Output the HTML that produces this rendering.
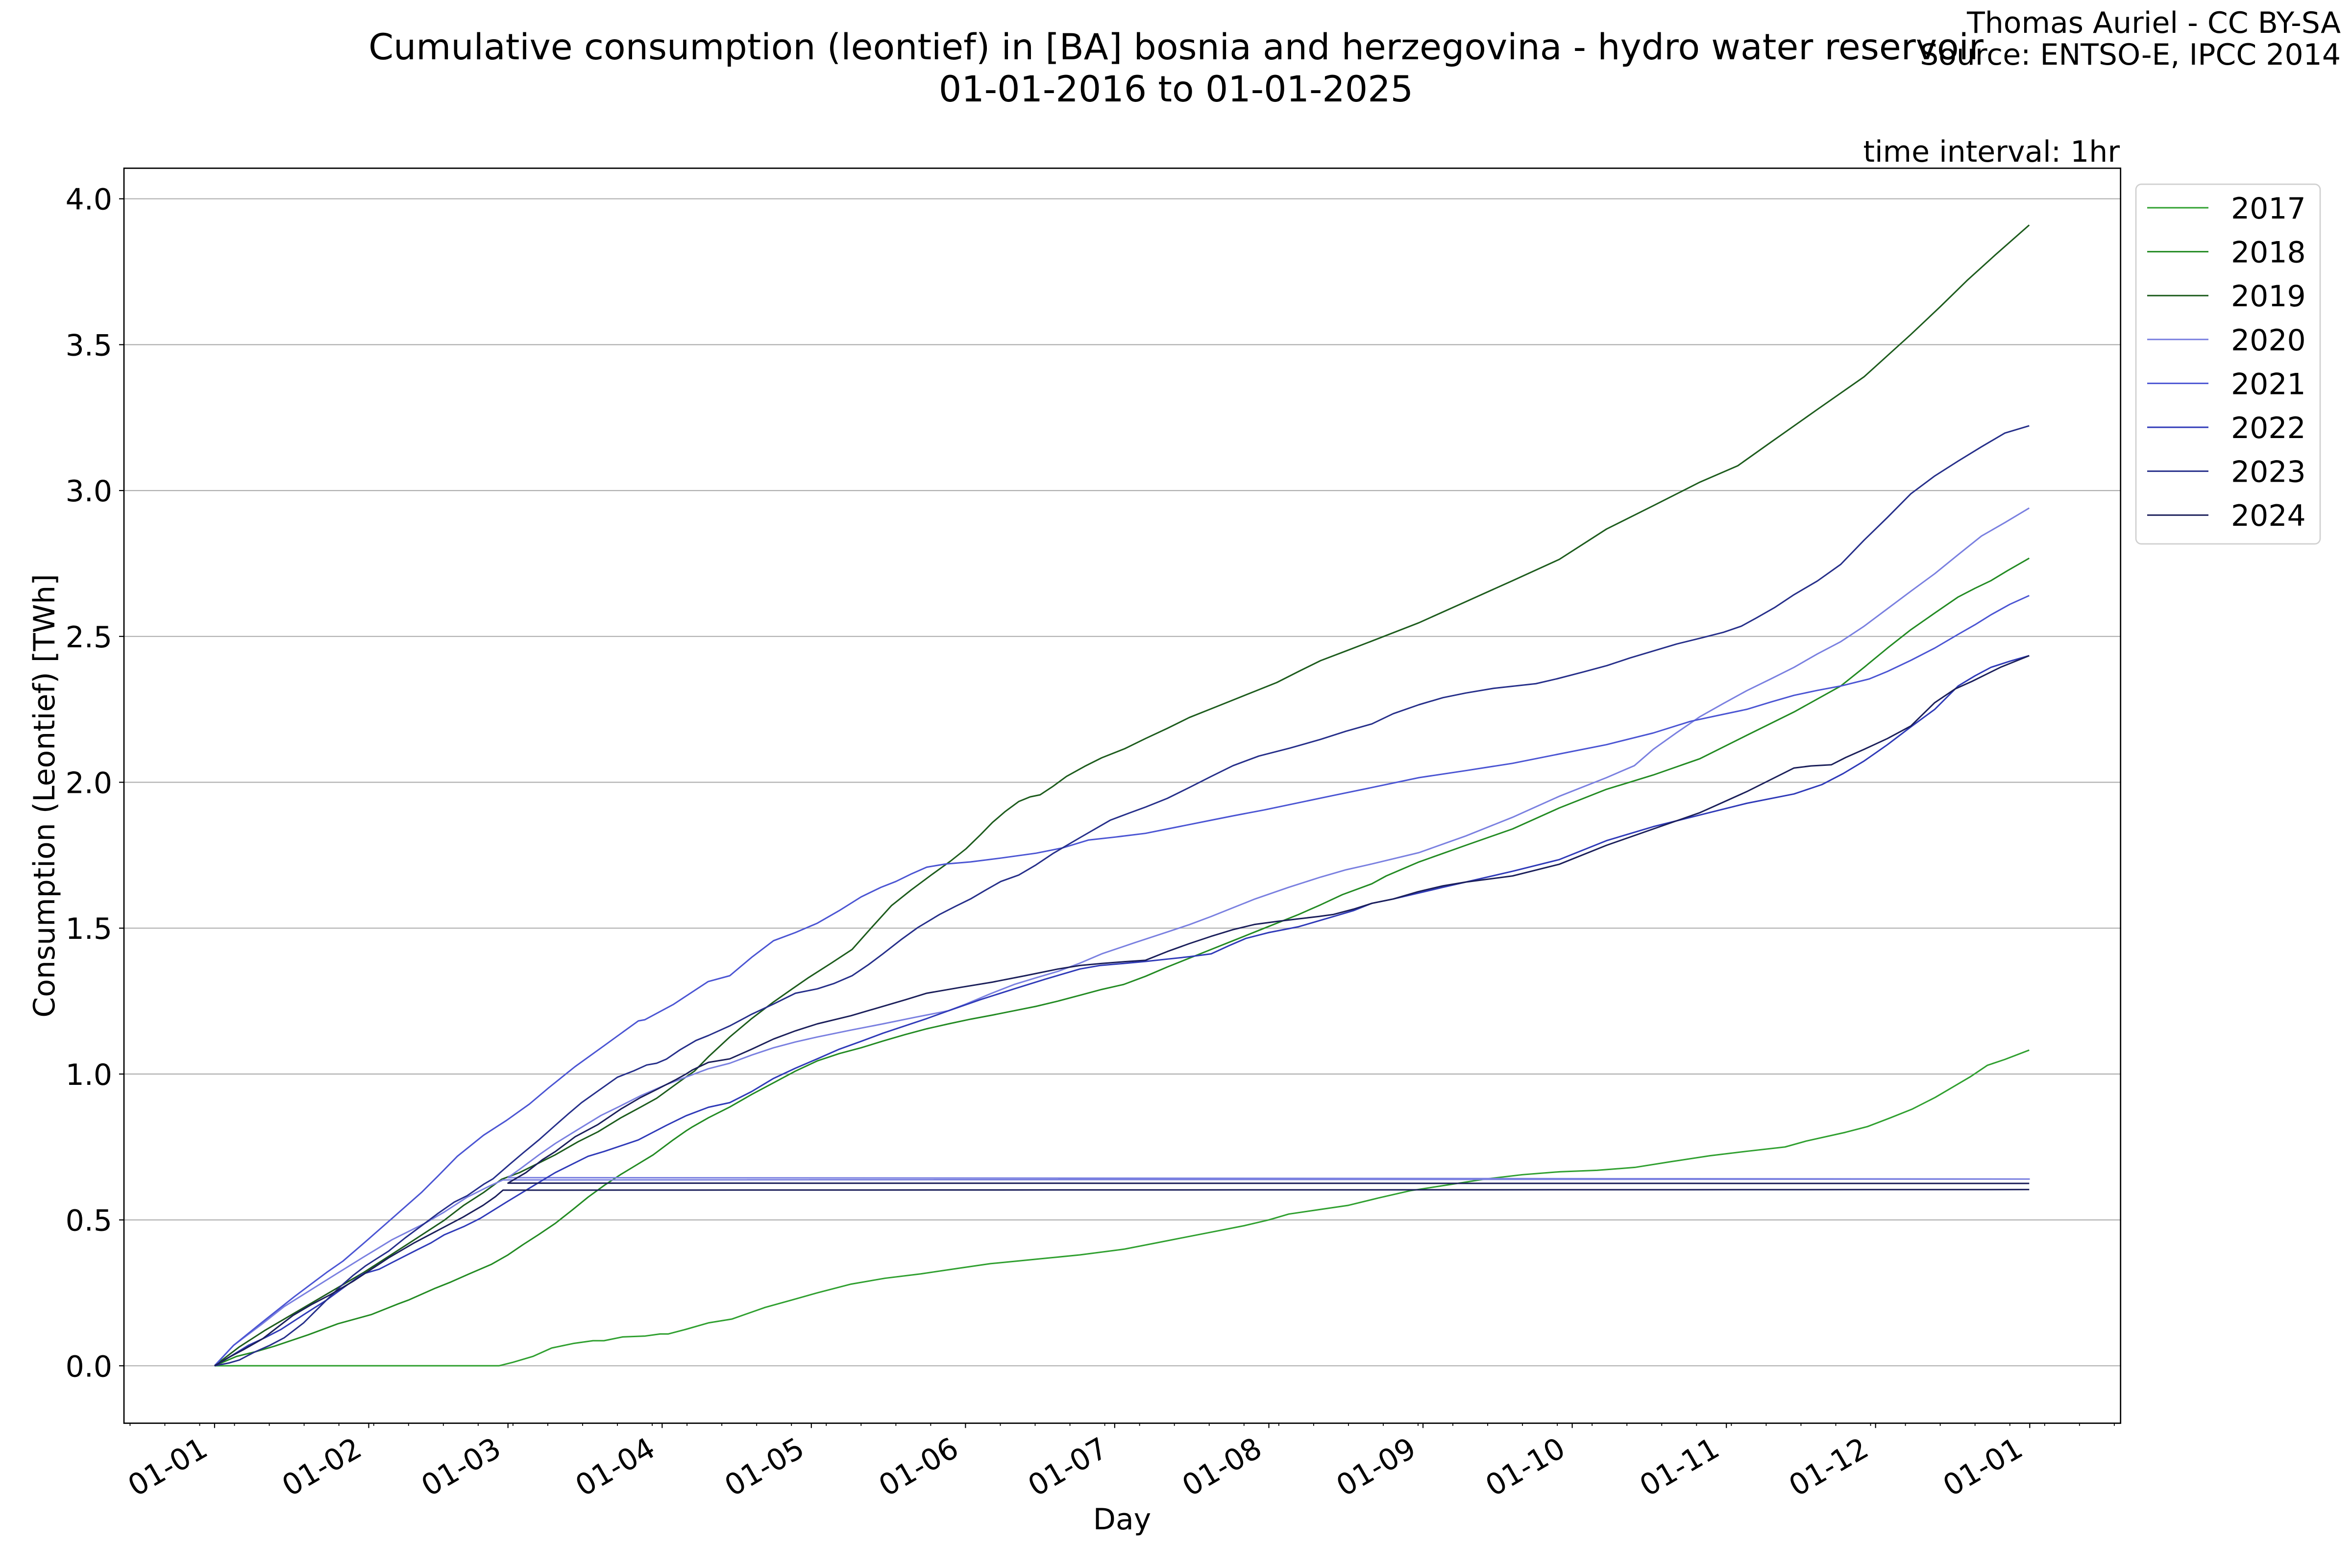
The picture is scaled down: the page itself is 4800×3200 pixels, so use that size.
<!DOCTYPE html>
<html><head><meta charset="utf-8"><style>
html,body{margin:0;padding:0;background:#fff;width:4800px;height:3200px;overflow:hidden}
svg{display:block}
text{font-family:"DejaVu Sans","Liberation Sans",sans-serif;fill:#000}
</style></head><body>
<svg xmlns="http://www.w3.org/2000/svg" width="4800" height="3200" viewBox="0 0 4800 3200">
<rect x="0" y="0" width="4800" height="3200" fill="#fff"/>
<!-- titles -->
<text x="2400" y="121" font-size="73" text-anchor="middle">Cumulative consumption (leontief) in [BA] bosnia and herzegovina - hydro water reservoir</text>
<text x="2400" y="207" font-size="73" text-anchor="middle">01-01-2016 to 01-01-2025</text>
<text x="4777" y="67" font-size="60" text-anchor="end">Thomas Auriel - CC BY-SA</text>
<text x="4777" y="132" font-size="60" text-anchor="end">Source: ENTSO-E, IPCC 2014</text>
<text x="4326" y="330" font-size="60" text-anchor="end">time interval: 1hr</text>

<!-- gridlines -->
<g stroke="#b0b0b0" stroke-width="2.2">
<line x1="253" x2="4327" y1="2787.3" y2="2787.3"/>
<line x1="253" x2="4327" y1="2489.6" y2="2489.6"/>
<line x1="253" x2="4327" y1="2191.9" y2="2191.9"/>
<line x1="253" x2="4327" y1="1894.2" y2="1894.2"/>
<line x1="253" x2="4327" y1="1596.5" y2="1596.5"/>
<line x1="253" x2="4327" y1="1298.8" y2="1298.8"/>
<line x1="253" x2="4327" y1="1001.1" y2="1001.1"/>
<line x1="253" x2="4327" y1="703.4" y2="703.4"/>
<line x1="253" x2="4327" y1="405.7" y2="405.7"/>
</g>

<!-- data -->
<g transform="translate(437.9 2787.3) scale(10.149 -595.4)" fill="none" stroke-linejoin="round" stroke-linecap="butt">
<polyline vector-effect="non-scaling-stroke" stroke="#30a030" stroke-width="3" points="0,0 57.2,0 60,0.012 64,0.032 67.8,0.061 72.3,0.077 76.1,0.086 78.3,0.086 82.1,0.099 86.6,0.102 89.6,0.109 91.2,0.109 94.8,0.125 99.3,0.147 104,0.16 110.7,0.2 116,0.225 121.2,0.25 128,0.28 134.8,0.3 142,0.315 149.9,0.335 156,0.35 162,0.36 168,0.37 174,0.38 183,0.4 189,0.42 195,0.44 201,0.46 207,0.48 212,0.5 216,0.52 222,0.535 228,0.55 234,0.575 240.4,0.6 248,0.62 255.5,0.64 263,0.655 270.5,0.665 278,0.67 285.6,0.68 293,0.7 300.7,0.72 308,0.735 315.8,0.75 320,0.77 327.9,0.8 332.4,0.82 337,0.85 341.4,0.88 346,0.92 349,0.95 353,0.99 356.5,1.03 360,1.05 364.9,1.082"/>
<polyline vector-effect="non-scaling-stroke" stroke="#238b23" stroke-width="3" points="0,0 4.4,0.032 8.2,0.048 12,0.067 18.8,0.106 24.8,0.144 31.6,0.176 36.9,0.212 38.96,0.225 44.4,0.266 47.5,0.287 51.2,0.315 55.7,0.348 59,0.38 62,0.415 65.2,0.45 68.5,0.488 72,0.535 75.1,0.578 78.5,0.62 81.7,0.656 85,0.69 88.2,0.723 92.2,0.774 94.8,0.805 96.1,0.819 99.3,0.85 103.6,0.887 108,0.93 112.4,0.97 116.8,1.01 121.2,1.045 125.6,1.07 130,1.09 134.4,1.113 138.8,1.135 143.2,1.155 147.6,1.172 152,1.188 156.4,1.202 160.8,1.217 165.2,1.232 169.6,1.25 174,1.27 178.4,1.29 182.8,1.307 187.2,1.335 191.6,1.367 196,1.397 200.4,1.427 204.8,1.457 209.2,1.487 213.6,1.517 218,1.547 222.4,1.58 226.8,1.615 232.7,1.652 235.6,1.679 242.2,1.727 251.6,1.784 261,1.84 270.4,1.912 279.9,1.976 289.3,2.025 298.7,2.081 308.1,2.161 317.6,2.241 327,2.33 331.7,2.394 336.4,2.46 341.1,2.523 345.9,2.58 350.6,2.635 354,2.665 357.2,2.691 360.5,2.725 364.9,2.768"/>
<polyline vector-effect="non-scaling-stroke" stroke="#1d5c1d" stroke-width="3" points="0,0 5,0.065 10,0.12 15,0.17 20,0.22 25,0.27 30,0.32 35,0.375 40,0.43 46.2,0.499 50.1,0.55 54.1,0.594 57.7,0.639 61.3,0.662 65.2,0.695 68.5,0.723 73.1,0.768 77.1,0.802 81.7,0.85 85.6,0.886 88.9,0.917 92.2,0.958 94.8,0.99 96.5,1.01 99.3,1.059 103.6,1.127 108,1.19 112.4,1.247 116,1.29 119.4,1.33 124,1.38 128.2,1.427 132,1.5 136.1,1.577 140,1.63 144.1,1.682 148,1.73 151.1,1.772 154,1.82 156.4,1.862 159,1.9 161.7,1.934 164,1.95 166,1.957 168.5,1.985 171.3,2.02 175,2.055 178.4,2.084 183,2.115 187.2,2.15 191.6,2.185 196,2.222 200.4,2.252 204.8,2.282 209.2,2.312 213.6,2.342 218,2.38 222.4,2.417 227.5,2.45 232.7,2.484 242.2,2.547 251.6,2.619 261,2.691 270.4,2.764 279.9,2.868 289.3,2.948 298.7,3.029 306.3,3.085 312.9,3.165 322.3,3.278 331.7,3.39 341.1,3.535 347,3.63 352.4,3.72 358.1,3.808 364.9,3.91"/>
<polyline vector-effect="non-scaling-stroke" stroke="#7a80e0" stroke-width="3" points="0,0 3.82,0.07 9.4,0.141 14,0.203 19.25,0.259 24.5,0.315 29.8,0.371 35.68,0.432 42.25,0.488 46.19,0.527 50.8,0.578 55.4,0.617 58,0.637 364.9,0.64 59,0.645 61.3,0.673 65.24,0.723 68.52,0.762 72.8,0.807 77.7,0.858 81.66,0.891 85.6,0.925 90.85,0.964 96.11,0.998 99.26,1.018 103.6,1.037 108,1.065 112.4,1.09 116.8,1.11 121.2,1.127 127.8,1.15 134.4,1.172 141,1.195 147.6,1.217 151.1,1.24 156,1.275 160.8,1.307 165.2,1.33 169.6,1.352 174,1.38 178.4,1.412 185,1.45 191.6,1.487 196,1.512 200.4,1.54 204.8,1.57 209.2,1.6 216,1.64 222.4,1.675 227.5,1.7 232.7,1.72 242.2,1.759 251.6,1.816 261,1.88 270.4,1.952 279.9,2.016 285.5,2.057 289.3,2.113 294,2.17 298.7,2.225 303.4,2.27 308.1,2.314 312.9,2.354 317.6,2.394 322.3,2.44 327,2.482 331.7,2.535 336.4,2.595 341.1,2.655 345.9,2.715 350.6,2.78 355.3,2.844 360,2.89 364.9,2.94"/>
<polyline vector-effect="non-scaling-stroke" stroke="#4b55d3" stroke-width="3" points="0,0 3.82,0.07 9.4,0.147 15.97,0.236 22.54,0.32 25.83,0.359 30.4,0.426 35.68,0.505 41.6,0.594 44.9,0.65 48.81,0.718 54.07,0.79 58.7,0.841 63.3,0.897 67.2,0.953 72.46,1.025 78.4,1.098 85.2,1.182 86.5,1.186 92.2,1.238 99.26,1.317 103.6,1.337 108,1.4 112.4,1.457 116.8,1.485 121.2,1.517 125.6,1.56 130,1.607 134,1.64 137,1.66 140,1.685 143.2,1.709 147,1.72 152,1.727 158,1.74 165.2,1.757 170.5,1.775 175.7,1.802 181,1.812 187.2,1.825 191.6,1.84 196,1.855 200.4,1.87 204.8,1.885 211,1.905 218,1.93 225,1.955 232.7,1.982 242.2,2.016 251.6,2.04 261,2.065 270.4,2.097 279.9,2.129 289.3,2.169 296.8,2.209 302,2.228 308.1,2.25 312.9,2.275 317.6,2.298 322.3,2.315 327,2.33 332.7,2.354 336.4,2.38 341.1,2.418 345.9,2.46 350.6,2.507 354,2.54 357.2,2.574 361,2.61 364.9,2.64"/>
<polyline vector-effect="non-scaling-stroke" stroke="#2f3ab8" stroke-width="3" points="0,0 3,0.03 6.8,0.07 10.1,0.096 13.3,0.124 17.9,0.175 22.5,0.225 26.5,0.275 29.8,0.315 33.1,0.331 35.7,0.354 40.9,0.399 43.5,0.421 46.2,0.449 50.1,0.477 53.4,0.505 58.7,0.561 64.6,0.622 68.5,0.662 75.1,0.718 78.4,0.735 85.2,0.774 90.85,0.824 94.8,0.857 99.3,0.886 103.6,0.902 108,0.94 112.4,0.985 116.8,1.02 121.2,1.052 125.6,1.085 130,1.112 134.4,1.14 138.8,1.165 143.2,1.19 147.6,1.217 154,1.255 160.8,1.292 167,1.325 174,1.36 178,1.372 182.8,1.379 187.2,1.386 191.6,1.394 196,1.402 200.4,1.412 204,1.44 207.4,1.465 212,1.485 218,1.505 222,1.525 225,1.54 229,1.56 232.7,1.585 237,1.6 242,1.62 247,1.64 251.6,1.658 261,1.695 270.4,1.735 279.9,1.8 289.3,1.848 298.7,1.888 308.1,1.928 317.6,1.96 323.2,1.992 327.5,2.03 331.7,2.073 336.4,2.129 341.1,2.19 345.9,2.25 350.6,2.33 354,2.365 357.2,2.394 361,2.415 364.9,2.434"/>
<polyline vector-effect="non-scaling-stroke" stroke="#262f8a" stroke-width="3" points="0,0 3,0.01 5,0.02 7.8,0.045 11.1,0.07 14,0.096 17.9,0.147 22.5,0.225 25.2,0.27 27.8,0.309 30.4,0.343 35,0.393 38.3,0.438 42.25,0.488 44.9,0.522 48.2,0.561 50.8,0.583 54.1,0.622 56,0.641 59.3,0.69 62,0.729 65.2,0.774 68.5,0.824 71.1,0.863 73.8,0.902 77.1,0.942 81,0.989 84.3,1.011 86.9,1.031 88.9,1.037 90.85,1.051 93.5,1.082 96.8,1.115 99.3,1.132 103.6,1.165 108,1.205 112.4,1.24 116.8,1.277 121.2,1.292 124.5,1.31 128.2,1.337 131.5,1.375 134.4,1.412 138,1.46 141.4,1.502 145.8,1.547 149,1.575 152,1.6 155,1.63 158.1,1.66 161.7,1.682 165,1.715 168.7,1.757 174,1.81 180.1,1.87 184,1.895 187.2,1.915 191.6,1.945 196,1.982 200.4,2.02 204.8,2.057 210,2.09 216.2,2.117 222.4,2.147 227.5,2.175 232.7,2.2 237,2.235 242.2,2.266 247,2.29 251.6,2.306 257.2,2.322 265.7,2.338 270,2.355 275.2,2.378 280,2.4 284.6,2.426 289.3,2.45 294,2.474 299,2.495 303.4,2.514 307,2.535 310,2.563 313.8,2.6 317.6,2.643 322.3,2.69 327,2.747 331.7,2.83 336.4,2.908 341.1,2.989 345.9,3.05 350.6,3.101 355.3,3.15 360,3.197 364.9,3.222"/>
<polyline vector-effect="non-scaling-stroke" stroke="#1b1f5a" stroke-width="3" points="0,0 3,0.03 6,0.057 9.7,0.093 12.5,0.13 15.8,0.173 19.5,0.21 23.3,0.244 27.8,0.289 31,0.325 35,0.37 40,0.42 45,0.465 50,0.51 54,0.55 56.5,0.58 58,0.602 364.9,0.604"/>
<polyline vector-effect="non-scaling-stroke" stroke="#1b1f5a" stroke-width="3" points="364.9,0.625 59,0.626 62.6,0.662 65.9,0.706 68.5,0.734 72.5,0.785 77.1,0.827 81.7,0.88 85.6,0.919 88.9,0.947 92.8,0.981 94.8,1 96.1,1.014 99.3,1.04 103.6,1.052 108,1.085 112.4,1.12 116.8,1.148 121.2,1.172 128,1.2 134.4,1.232 139,1.255 143.2,1.277 150,1.297 156.4,1.315 163,1.337 169.6,1.36 174,1.372 178.4,1.379 183,1.385 187.2,1.39 191.6,1.42 196,1.447 200.4,1.472 204.8,1.495 209.2,1.513 213.6,1.523 218,1.532 222,1.54 225,1.547 229,1.565 232.7,1.585 237,1.6 242,1.625 247,1.645 251.6,1.658 261,1.679 270.4,1.719 279.9,1.784 289.3,1.84 298.7,1.896 308.1,1.968 317.6,2.049 321,2.056 325.1,2.06 328,2.085 331.7,2.113 336.4,2.15 341.1,2.193 345.9,2.273 350,2.32 353.4,2.346 359.1,2.394 364.9,2.434"/>
</g>

<!-- axes frame -->
<rect x="253" y="343.3" width="4074.7" height="2561.2" fill="none" stroke="#000" stroke-width="2.7"/>

<!-- y ticks -->
<g stroke="#000" stroke-width="2.2">
<line x1="243" x2="253" y1="2787.3" y2="2787.3"/>
<line x1="243" x2="253" y1="2489.6" y2="2489.6"/>
<line x1="243" x2="253" y1="2191.9" y2="2191.9"/>
<line x1="243" x2="253" y1="1894.2" y2="1894.2"/>
<line x1="243" x2="253" y1="1596.5" y2="1596.5"/>
<line x1="243" x2="253" y1="1298.8" y2="1298.8"/>
<line x1="243" x2="253" y1="1001.1" y2="1001.1"/>
<line x1="243" x2="253" y1="703.4" y2="703.4"/>
<line x1="243" x2="253" y1="405.7" y2="405.7"/>
</g>
<g font-size="60" text-anchor="end">
<text x="229" y="2809.3">0.0</text>
<text x="229" y="2511.6">0.5</text>
<text x="229" y="2213.9">1.0</text>
<text x="229" y="1916.2">1.5</text>
<text x="229" y="1618.5">2.0</text>
<text x="229" y="1320.8">2.5</text>
<text x="229" y="1023.1">3.0</text>
<text x="229" y="725.4">3.5</text>
<text x="229" y="427.7">4.0</text>
</g>

<!-- x minor ticks -->
<line x1="264.5" x2="4320" y1="2907.2" y2="2907.2" stroke="#000" stroke-width="5.5" stroke-dasharray="1.8 69.243"/>
<!-- x major ticks -->
<g stroke="#000" stroke-width="2.2">
<line x1="437.9" x2="437.9" y1="2904" y2="2914.3"/>
<line x1="752.5" x2="752.5" y1="2904" y2="2914.3"/>
<line x1="1036.7" x2="1036.7" y1="2904" y2="2914.3"/>
<line x1="1351.3" x2="1351.3" y1="2904" y2="2914.3"/>
<line x1="1655.8" x2="1655.8" y1="2904" y2="2914.3"/>
<line x1="1970.4" x2="1970.4" y1="2904" y2="2914.3"/>
<line x1="2274.9" x2="2274.9" y1="2904" y2="2914.3"/>
<line x1="2589.5" x2="2589.5" y1="2904" y2="2914.3"/>
<line x1="2904.1" x2="2904.1" y1="2904" y2="2914.3"/>
<line x1="3208.6" x2="3208.6" y1="2904" y2="2914.3"/>
<line x1="3523.2" x2="3523.2" y1="2904" y2="2914.3"/>
<line x1="3827.7" x2="3827.7" y1="2904" y2="2914.3"/>
<line x1="4142.3" x2="4142.3" y1="2904" y2="2914.3"/>
</g>
<g font-size="60" text-anchor="end">
<text transform="translate(428 2968) rotate(-30)">01-01</text>
<text transform="translate(742.5 2968) rotate(-30)">01-02</text>
<text transform="translate(1026.7 2968) rotate(-30)">01-03</text>
<text transform="translate(1341.3 2968) rotate(-30)">01-04</text>
<text transform="translate(1645.8 2968) rotate(-30)">01-05</text>
<text transform="translate(1960.4 2968) rotate(-30)">01-06</text>
<text transform="translate(2264.9 2968) rotate(-30)">01-07</text>
<text transform="translate(2579.5 2968) rotate(-30)">01-08</text>
<text transform="translate(2894.1 2968) rotate(-30)">01-09</text>
<text transform="translate(3198.6 2968) rotate(-30)">01-10</text>
<text transform="translate(3513.2 2968) rotate(-30)">01-11</text>
<text transform="translate(3817.7 2968) rotate(-30)">01-12</text>
<text transform="translate(4132.3 2968) rotate(-30)">01-01</text>
</g>

<!-- axis labels -->
<text x="2290" y="3121" font-size="60" text-anchor="middle">Day</text>
<text transform="translate(111 1624) rotate(-90)" font-size="60" text-anchor="middle">Consumption (Leontief) [TWh]</text>

<!-- legend -->
<rect x="4359" y="376" width="376" height="734" rx="11" ry="11" fill="#fff" fill-opacity="0.8" stroke="#d0d0d0" stroke-width="2.7"/>
<g stroke-width="3">
<line x1="4382" x2="4507" y1="424" y2="424" stroke="#30a030"/>
<line x1="4382" x2="4507" y1="513.6" y2="513.6" stroke="#238b23"/>
<line x1="4382" x2="4507" y1="603.2" y2="603.2" stroke="#1d5c1d"/>
<line x1="4382" x2="4507" y1="692.8" y2="692.8" stroke="#7a80e0"/>
<line x1="4382" x2="4507" y1="782.4" y2="782.4" stroke="#4b55d3"/>
<line x1="4382" x2="4507" y1="872" y2="872" stroke="#2f3ab8"/>
<line x1="4382" x2="4507" y1="961.6" y2="961.6" stroke="#262f8a"/>
<line x1="4382" x2="4507" y1="1051.2" y2="1051.2" stroke="#1b1f5a"/>
</g>
<g font-size="60">
<text x="4553" y="446">2017</text>
<text x="4553" y="535.6">2018</text>
<text x="4553" y="625.2">2019</text>
<text x="4553" y="714.8">2020</text>
<text x="4553" y="804.4">2021</text>
<text x="4553" y="894">2022</text>
<text x="4553" y="983.6">2023</text>
<text x="4553" y="1073.2">2024</text>
</g>
</svg>
</body></html>
